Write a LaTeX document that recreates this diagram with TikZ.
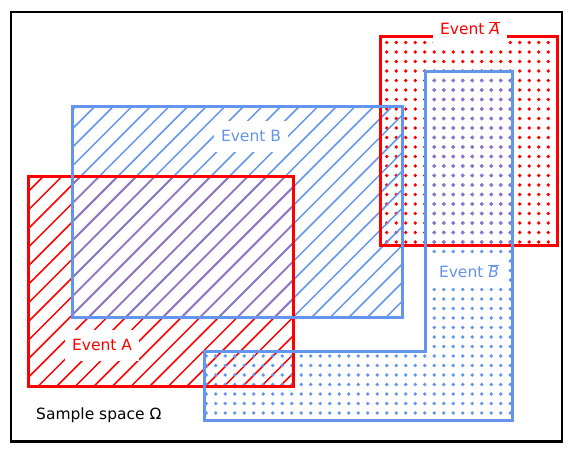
\documentclass[tikz,border=0pt]{standalone}
\usepackage{fontspec}
\setmainfont{DejaVu Sans}
\definecolor{cblue}{HTML}{6495ED}
\definecolor{cred}{HTML}{FF0000}
\definecolor{cpurpleL}{rgb}{0.55,0.47,0.78}
\definecolor{cpurpleD}{rgb}{0.52,0.48,0.85}
\newcommand\barit[1]{$\overline{\hbox{\itshape #1}}$}
\newcommand\hatchlines[1]{%
  \foreach \c in {-480,-461.4,...,560} {\draw[#1,line width=1.5pt] (\c,0) -- ++(520,520);}}
\newcommand\dotgrid[5]{% colour, i from, i to, j from, j to
  \foreach \i in {#2,...,#3} {\foreach \j in {#4,...,#5} {\fill[#1] (6.7+\i*9.5,7+\j*9.5) circle (1.85pt);}}}
\tikzset{
  pA/.style={insert path={(28,281) rectangle (293,71)}},
  pB/.style={insert path={(72,351) rectangle (402,140)}},
  pNA/.style={insert path={(380,421) rectangle (557,212)}},
  pNB/.style={insert path={(425,386) -- (512,386) -- (512,37) -- (204,37) -- (204,106) -- (425,106) -- cycle}},
  border/.style={draw=#1,line width=3pt},
  lbl/.style={fill=white,inner xsep=7pt,inner ysep=8pt,text height=12pt,text depth=3pt,font=\fontsize{15.5pt}{18pt}\selectfont,text=#1}
}
\begin{document}
\begin{tikzpicture}[x=1pt,y=1pt]
\useasboundingbox (0,0) rectangle (574,458);
\fill[white] (0,0) rectangle (574,458);
% Event A hatch
\begin{scope}\clip[pA]; \hatchlines{cred} \end{scope}
% Event not A dots
\begin{scope}\clip[pNA]; \dotgrid{cred}{38}{59}{20}{45} \end{scope}
% Event B hatch
\begin{scope}\clip[pB]; \hatchlines{cblue} \end{scope}
% Event not B dots
\begin{scope}\clip[pNB]; \dotgrid{cblue}{20}{54}{2}{41} \end{scope}
% overlaps
\begin{scope}\clip[pA]; \clip[pB]; \hatchlines{cpurpleL} \end{scope}
\begin{scope}\clip[pNA]; \clip[pNB]; \dotgrid{cpurpleD}{42}{54}{20}{41} \end{scope}
% borders
\draw[border=cred,pA];
\draw[border=cred,pNA];
\draw[border=cblue,pB];
\draw[border=cblue,pNB];
% frame
\draw[line width=2.7pt] (11,446) rectangle (562,16.5);
% labels
\node[lbl=cred] (la) at (102,112) {Event A};
\node[lbl=cblue] (lb) at (251,321) {Event B};
\node[lbl=cred] (lna) at (470,428) {Event \barit{A}};
\node[lbl=cblue] (lnb) at (469,185) {Event \barit{B}};
\node[anchor=west,inner sep=0pt,font=\fontsize{15.5pt}{18pt}\selectfont] (ls) at (36,43) {Sample space Ω};
\end{tikzpicture}
\end{document}
